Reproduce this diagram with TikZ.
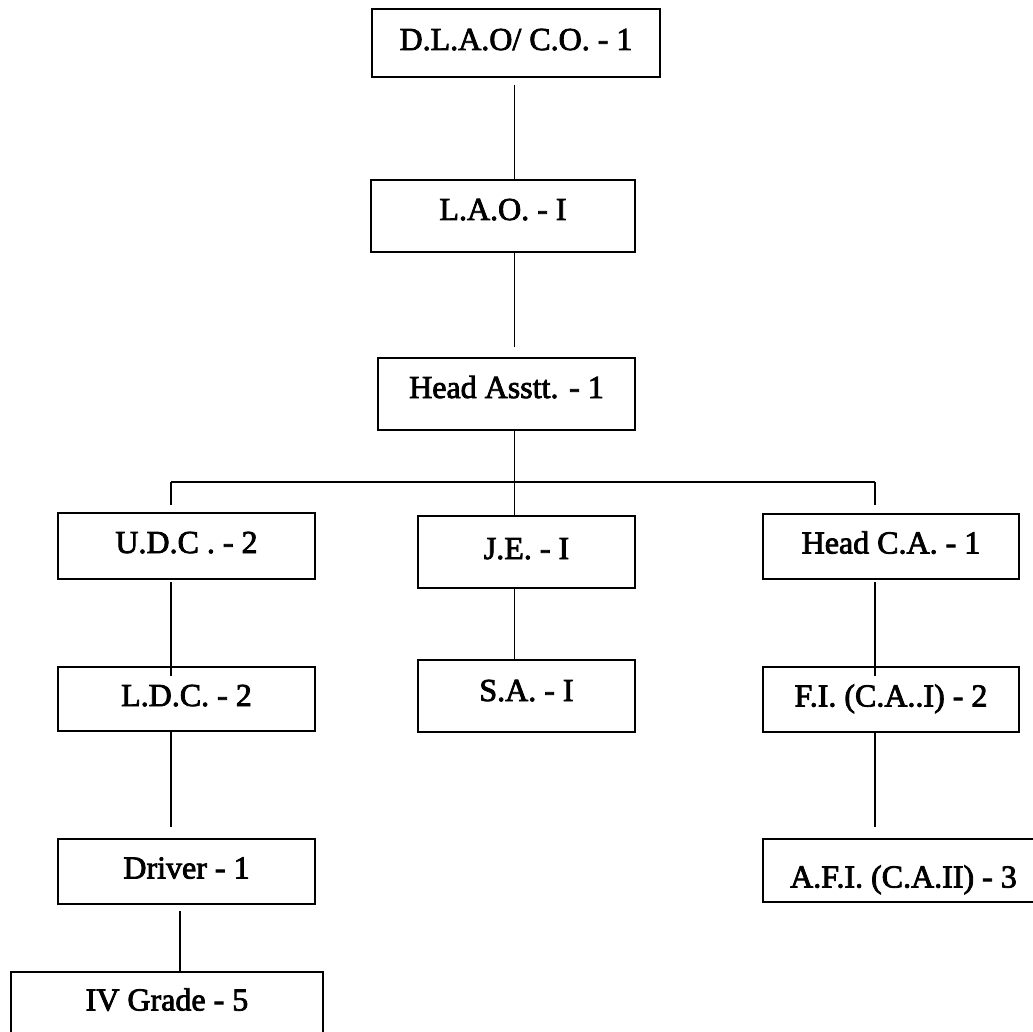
\documentclass[tikz,border=0pt]{standalone}
\usepackage{fontspec}
\setmainfont{Liberation Serif}
\newfontfamily\heavyserif{Liberation Serif}[FakeBold=2.5]
\begin{document}
\begin{tikzpicture}[x=1pt,y=-1pt,
  box/.style={draw, line width=1.9pt, rectangle, inner sep=0pt,
    font=\heavyserif\fontsize{32}{38}\selectfont, text height=22pt, text depth=8pt},
  conn/.style={line width=1.6pt}]
\fill[white] (0,0) rectangle (1033,1032);
\useasboundingbox (0,0) rectangle (1033,1032);
% boxes
\node[box, minimum width=288pt, minimum height=68pt] (dlao) at (516,43) {D.L.A.O/ C.O. - 1};
\node[box, minimum width=264pt, minimum height=72pt] (lao) at (503,216) {\raisebox{3pt}[\height][\depth]{L.A.O. - I}};
\node[box, minimum width=257pt, minimum height=72pt] (head) at (506.5,394) {\raisebox{3pt}[\height][\depth]{Head Asstt. - 1}};
\node[box, minimum width=257pt, minimum height=66pt] (udc) at (186.5,546) {U.D.C . - 2};
\node[box, minimum width=217pt, minimum height=72pt] (je) at (526.5,552) {J.E. - I};
\node[box, minimum width=256pt, minimum height=65pt] (hca) at (891,546.5) {Head C.A. - 1};
\node[box, minimum width=257pt, minimum height=64pt] (ldc) at (186.5,699) {L.D.C. - 2};
\node[box, minimum width=217pt, minimum height=72pt] (sa) at (526.5,696) {\raisebox{2pt}[\height][\depth]{S.A. - I}};
\node[box, minimum width=256pt, minimum height=65pt] (fi) at (891,699.5) {F.I. (C.A..I) - 2};
\node[box, minimum width=257pt, minimum height=65pt] (drv) at (186.5,871.5) {Driver - 1};
\node[box, minimum width=281pt, minimum height=63pt] (afi) at (903.5,870.5) {\raisebox{-10pt}[\height][\depth]{A.F.I. (C.A.II) - 3}};
\node[box, minimum width=312pt, minimum height=63pt] (ivg) at (167,1003.5) {IV Grade - 5};
% connector coordinates
\coordinate (cM) at (514.5,0);
\coordinate (busL) at (171,482);
\coordinate (busM) at (514.5,482);
\coordinate (busR) at (875,482);
\coordinate (cD) at (180,0);
% connectors
\draw[conn, shorten <=7pt] (dlao.south -| cM) -- (lao.north -| cM);
\draw[conn, shorten >=10pt] (lao.south -| cM) -- (head.north -| cM);
\draw[conn] (head.south -| cM) -- (busM);
\draw[conn] (busL) -- (busR);
\draw[conn, shorten >=7pt] (busL) -- (udc.north -| busL);
\draw[conn] (busM) -- (je.north -| busM);
\draw[conn, shorten >=8pt] (busR) -- (hca.north -| busR);
\draw[conn, shorten <=2pt, shorten >=-10pt] (udc.south -| busL) -- (ldc.north -| busL);
\draw[conn] (je.south -| busM) -- (sa.north -| busM);
\draw[conn, shorten <=2pt, shorten >=-10pt] (hca.south -| busR) -- (fi.north -| busR);
\draw[conn, shorten >=11pt] (ldc.south -| busL) -- (drv.north -| busL);
\draw[conn, shorten >=11pt] (fi.south -| busR) -- (afi.north -| busR);
\draw[conn, shorten <=6pt] (drv.south -| cD) -- (ivg.north -| cD);
\end{tikzpicture}
\end{document}
